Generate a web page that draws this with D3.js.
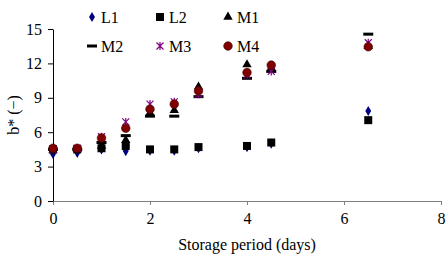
<!DOCTYPE html>
<html>
<head>
<meta charset="utf-8">
<script src="https://cdn.jsdelivr.net/npm/d3@7"></script>
<style>
  body { margin: 0; background: #fff; }
  svg text { font-family: "Liberation Serif", "Times New Roman", serif !important; }
</style>
</head>
<body>
<div id="chart"></div>
<script>
// storage days for each measurement
const days = [0, 0.5, 1, 1.5, 2, 2.5, 3, 4, 4.5, 6.5];

const L1 = [4.1, 4.2, 4.5, 4.35, 4.4, 4.4, 4.6, 4.7, 5.0, 7.85];
const L2 = [4.5, 4.5, 4.6, 4.8, 4.5, 4.5, 4.7, 4.8, 5.1, 7.05];
const M1 = [4.4, 4.5, 4.8, 5.3, 7.7, 7.9, 9.95, 11.9, 11.6, 13.5];
const M2 = [4.5, 4.5, 5.1, 5.7, 7.4, 7.4, 9.1, 10.7, 11.3, 14.55];
const M3 = [4.5, 4.6, 5.6, 6.9, 8.45, 8.65, 9.3, 11.0, 11.3, 13.8];
const M4 = [4.6, 4.6, 5.5, 6.35, 8.0, 8.45, 9.6, 11.2, 11.85, 13.45];

const xTicks = [0, 2, 4, 6, 8];
const yTicks = [0, 3, 6, 9, 12, 15];

const series = [
    { name: "L1", values: L1, shape: "diamond", color: "#000080" },
    { name: "L2", values: L2, shape: "square", color: "#000000" },
    { name: "M1", values: M1, shape: "triangle", color: "#000000" },
    { name: "M2", values: M2, shape: "dash", color: "#000000" },
    { name: "M3", values: M3, shape: "star", color: "#800080" },
    { name: "M4", values: M4, shape: "circle", color: "#800000" }
];

const width = 448, height = 260;
const margin = { left: 53, right: 7, top: 29, bottom: 59 };
const fs = 16;

const svg = d3.select("#chart").append("svg")
    .attr("width", width)
    .attr("height", height);

const x = d3.scaleLinear().domain([0, 8]).range([margin.left, width - margin.right]);
const y = d3.scaleLinear().domain([0, 15]).range([height - margin.bottom, margin.top]);

// x axis (grey line, ticks down)
const xAxis = svg.append("g")
    .attr("transform", `translate(0,${y(0)})`)
    .call(d3.axisBottom(x).tickValues(xTicks).tickSize(4).tickPadding(8).tickSizeOuter(0));
xAxis.select(".domain").attr("stroke", "#808080");
xAxis.selectAll(".tick line").attr("stroke", "#808080");
xAxis.selectAll("text").attr("font-size", fs).attr("fill", "#000");

// y axis (black)
const yAxis = svg.append("g")
    .attr("transform", `translate(${x(0)},0)`)
    .call(d3.axisLeft(y).tickValues(yTicks).tickSize(5).tickPadding(6).tickSizeOuter(0));
yAxis.select(".domain").attr("stroke", "#000");
yAxis.selectAll("text").attr("font-size", fs).attr("fill", "#000");

svg.append("text")
    .attr("x", (x(0) + x(8)) / 2)
    .attr("y", 250)
    .attr("text-anchor", "middle")
    .attr("font-size", fs)
    .text("Storage period (days)");

svg.append("text")
    .attr("transform", `translate(19,${(y(0) + y(15)) / 2}) rotate(-90)`)
    .attr("text-anchor", "middle")
    .attr("font-size", fs)
    .text("b* (\u2212)");

function drawMarker(g, shape, color) {
    if (shape === "diamond") {
        g.append("path").attr("d", d3.symbol(d3.symbolDiamond, 30)()).attr("fill", color);
    } else if (shape === "square") {
        g.append("rect").attr("x", -4).attr("y", -4).attr("width", 8).attr("height", 8).attr("fill", color);
    } else if (shape === "triangle") {
        g.append("path").attr("d", d3.symbol(d3.symbolTriangle, 38)()).attr("fill", color);
    } else if (shape === "dash") {
        g.append("rect").attr("x", -5).attr("y", -1.5).attr("width", 10).attr("height", 3).attr("fill", color);
    } else if (shape === "star") {
        g.append("path").attr("d", "M-3.5,-3.5L3.5,3.5M-3.5,3.5L3.5,-3.5M0,-4L0,4")
            .attr("stroke", color).attr("stroke-width", 1.2);
    } else if (shape === "circle") {
        g.append("circle").attr("r", 4.3).attr("fill", color).attr("stroke", "#400000").attr("stroke-width", 0.6);
    }
}

// points
series.forEach(s => {
    svg.append("g").selectAll("g")
        .data(s.values)
        .enter().append("g")
        .attr("transform", (d, i) => `translate(${x(days[i])},${y(d)})`)
        .each(function() { drawMarker(d3.select(this), s.shape, s.color); });
});

// legend: 3 columns, 2 rows
const legend = svg.append("g");
series.forEach((s, i) => {
    const col = i % 3, row = Math.floor(i / 3);
    const g = legend.append("g").attr("transform", `translate(${92 + col * 68},${17 + row * 29})`);
    drawMarker(g, s.shape, s.color);
    g.append("text").attr("x", 9).attr("y", 5.5).attr("font-size", fs).text(s.name);
});
</script>
</body>
</html>
